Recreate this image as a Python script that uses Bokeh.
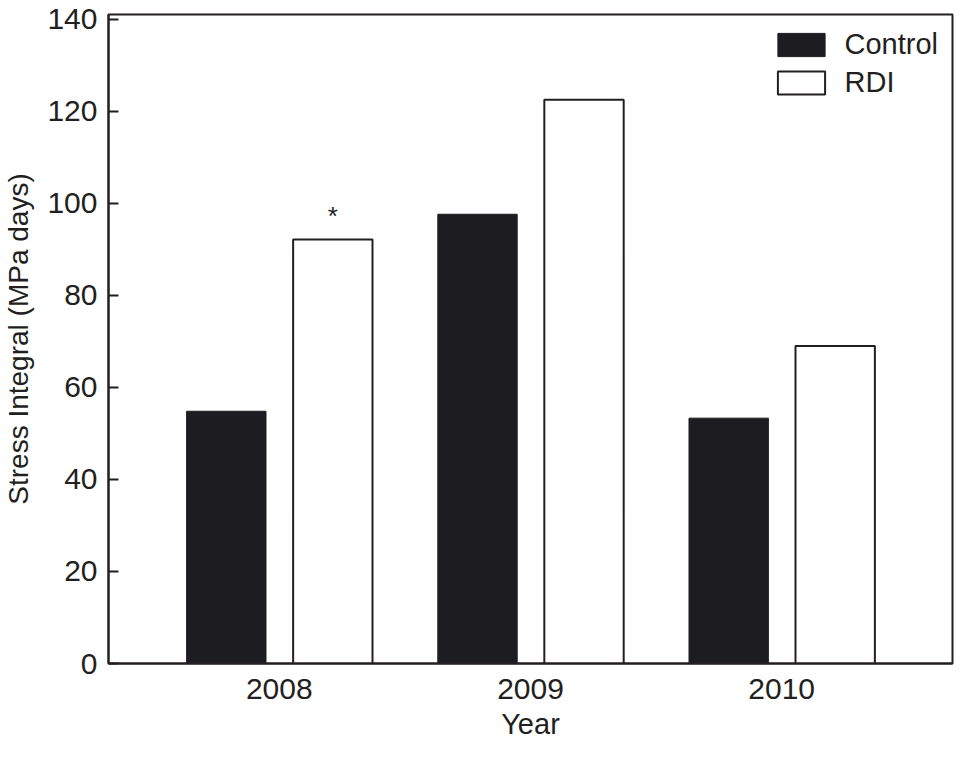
from bokeh.plotting import figure
from bokeh.models import FactorRange, Range1d, ColumnDataSource, Legend, LegendItem, FixedTicker
from bokeh.transform import dodge
from bokeh.core.properties import value
from bokeh.embed import file_html
from bokeh.resources import INLINE

years = ["2008", "2009", "2010"]
control = [54.8, 97.6, 53.3]
rdi = [92.1, 122.5, 69.0]
sig = ["*", "", ""]
y_ticks = [0, 20, 40, 60, 80, 100, 120, 140]

FONT = "Liberation Sans"
INK = "#231f20"
BAR = "#1d1c20"

src = ColumnDataSource(dict(year=years, control=control, rdi=rdi, sig=sig))

p = figure(width=955, height=742, output_backend="svg", toolbar_location=None,
           x_range=FactorRange(factors=years, range_padding=0.12),
           y_range=Range1d(0, 141),
           min_border_left=99, min_border_top=14, min_border_right=3, min_border_bottom=0)

r1 = p.vbar(x=dodge("year", -0.211, range=p.x_range), top="control", width=0.316, source=src,
            fill_color=BAR, line_color=BAR, line_width=1)
r2 = p.vbar(x=dodge("year", 0.213, range=p.x_range), top="rdi", width=0.316, source=src,
            fill_color="white", line_color=INK, line_width=2)
p.text(x=dodge("year", 0.213, range=p.x_range), y="rdi", text="sig", source=src,
       text_align="center", text_baseline="alphabetic", y_offset=-24,
       text_font=value(FONT), text_font_size="26px", text_color=INK)

p.xgrid.visible = False
p.ygrid.visible = False
p.background_fill_color = "white"
p.border_fill_color = "white"
p.outline_line_color = INK
p.outline_line_width = 2

p.yaxis.ticker = FixedTicker(ticks=y_ticks)
p.yaxis.major_tick_in = 10
p.yaxis.major_tick_out = 0
p.yaxis.minor_tick_line_color = None
p.yaxis.axis_line_color = INK
p.yaxis.axis_line_width = 2
p.yaxis.major_tick_line_color = INK
p.yaxis.major_tick_line_width = 2
p.yaxis.major_label_standoff = 11
p.yaxis.axis_label = "Stress Integral (MPa days)"
p.yaxis.axis_label_standoff = 10

p.xaxis.major_tick_line_color = None
p.xaxis.minor_tick_line_color = None
p.xaxis.axis_line_color = INK
p.xaxis.axis_line_width = 2
p.xaxis.major_label_standoff = 9
p.xaxis.axis_label = "Year"
p.xaxis.axis_label_standoff = 6

for ax in (p.xaxis, p.yaxis):
    ax.major_label_text_font = FONT
    ax.major_label_text_font_size = "30px"
    ax.major_label_text_color = INK
    ax.axis_label_text_font = FONT
    ax.axis_label_text_font_size = "29px"
    ax.axis_label_text_font_style = "normal"
    ax.axis_label_text_color = INK
p.yaxis.axis_label_text_font_size = "28px"

legend = Legend(items=[LegendItem(label="Control", renderers=[r1]),
                       LegendItem(label="RDI", renderers=[r2])],
                location="top_right", border_line_color=None, background_fill_alpha=0,
                glyph_width=59, glyph_height=29, label_height=29, spacing=5,
                margin=14, padding=10, label_standoff=14,
                label_text_font=FONT, label_text_font_size="29px", label_text_color=INK)
p.add_layout(legend)

open("out.html", "w").write(file_html(p, INLINE))
